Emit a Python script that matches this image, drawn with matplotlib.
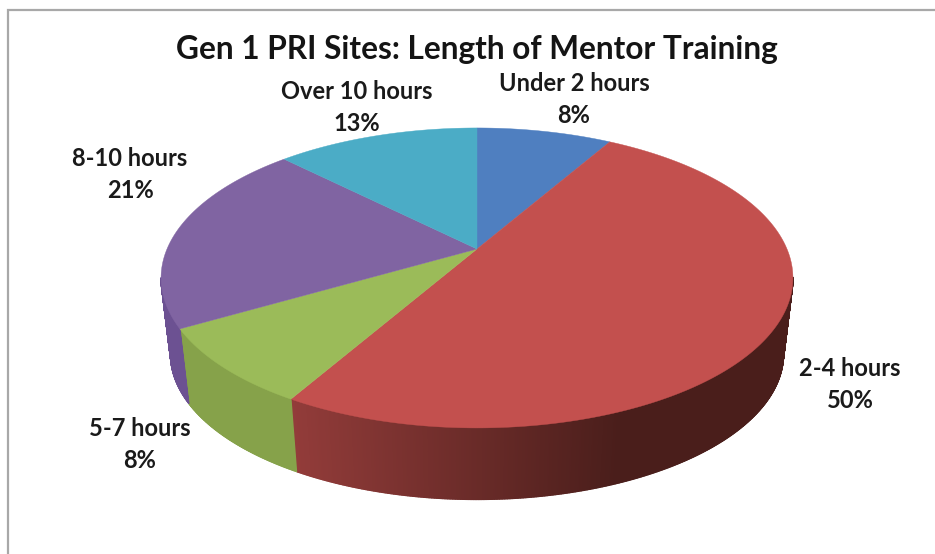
import math
import numpy as np
import matplotlib
matplotlib.use('Agg')
import matplotlib.pyplot as plt
from matplotlib.collections import PolyCollection

plt.rcParams['font.family'] = ['Lato', 'DejaVu Sans']

#--------------------------------------------
# data
#--------------------------------------------
categories = ['Under 2 hours', '2-4 hours', '5-7 hours', '8-10 hours', 'Over 10 hours']
site_counts = [2, 12, 2, 5, 3]

top_colors = ['#4f7fc0', '#c3504e', '#9bbb59', '#8064a2', '#4bacc6']
# wall colour at the left end and right end of the pie
wall_left = ['#3a5f90', '#933c3a', '#86a24a', '#6c5192', '#3a8aa0']
wall_right = ['#3a5f90', '#4a1e1b', '#76903f', '#6c5192', '#3a8aa0']

label_xy = [(574, 99.5), (850, 384.5), (140, 444.5), (130, 174.5), (357, 107.5)]

#--------------------------------------------
# perspective of the pie, in pixels
#--------------------------------------------
APEX_X, APEX_Y = 477, 249
PERSP = 0.193
SCALE_X, SCALE_Y = 310, 144.4
TOP_CY, BOTTOM_CY, SHRINK = 278, 354, 0.97


def project(theta):
    # theta is clockwise from 12 o'clock
    u, v = np.sin(theta), np.cos(theta)
    den = 1 + PERSP * v
    return APEX_X + SCALE_X * u / den, APEX_Y - SCALE_Y * v / den


def lower(x, y):
    return APEX_X + SHRINK * (x - APEX_X), BOTTOM_CY + SHRINK * (y - TOP_CY)


def hex_rgb(c):
    return np.array(matplotlib.colors.to_rgb(c))


fig = plt.figure(figsize=(9.35, 5.54), dpi=100)
ax = fig.add_axes([0, 0, 1, 1])
ax.set_xlim(0, 935)
ax.set_ylim(554, 0)
ax.axis('off')

# chart border (only left and top are inside the crop)
ax.plot([8, 8, 935], [554, 10, 10], color='#a8a8a8', lw=1.6, solid_joinstyle='miter')

fractions = np.array(site_counts) / sum(site_counts)
edges = np.concatenate([[0], np.cumsum(fractions)]) * 2 * np.pi

# walls first, only the front half of the rim can be seen
for i in range(len(categories)):
    th = np.linspace(edges[i], edges[i + 1], int(fractions[i] * 1440) + 2)
    x, y = project(th)
    xb, yb = lower(x, y)
    quads = []
    cols = []
    for j in range(len(th) - 1):
        if y[j] < TOP_CY and y[j + 1] < TOP_CY:
            continue
        quads.append([(x[j], y[j]), (x[j + 1], y[j + 1]), (xb[j + 1], yb[j + 1]), (xb[j], yb[j])])
        # red wall goes dark quickly towards the right
        t = np.clip((x[j] - 290) / 330, 0, 1)
        cols.append(hex_rgb(wall_left[i]) * (1 - t) + hex_rgb(wall_right[i]) * t)
    if quads:
        ax.add_collection(PolyCollection(quads, facecolors=cols, edgecolors=cols, linewidths=1.0))

for i in range(len(categories)):
    th = np.linspace(edges[i], edges[i + 1], 200)
    x, y = project(th)
    ax.fill(np.r_[APEX_X, x], np.r_[APEX_Y, y], color=top_colors[i], lw=0.3)

ax.text(477, 50, 'Gen 1 PRI Sites: Length of Mentor Training', ha='center', va='center',
        fontsize=22.75, fontweight='bold', color='#141414')

for i in range(len(categories)):
    pct = math.floor(fractions[i] * 100 + 0.5)
    ax.text(label_xy[i][0], label_xy[i][1], f'{categories[i]}\n{pct}%', ha='center', va='center',
            fontsize=17, fontweight='bold', color='#1a1a1a', linespacing=1.5)

fig.savefig('out.png', dpi=100, facecolor='white')
